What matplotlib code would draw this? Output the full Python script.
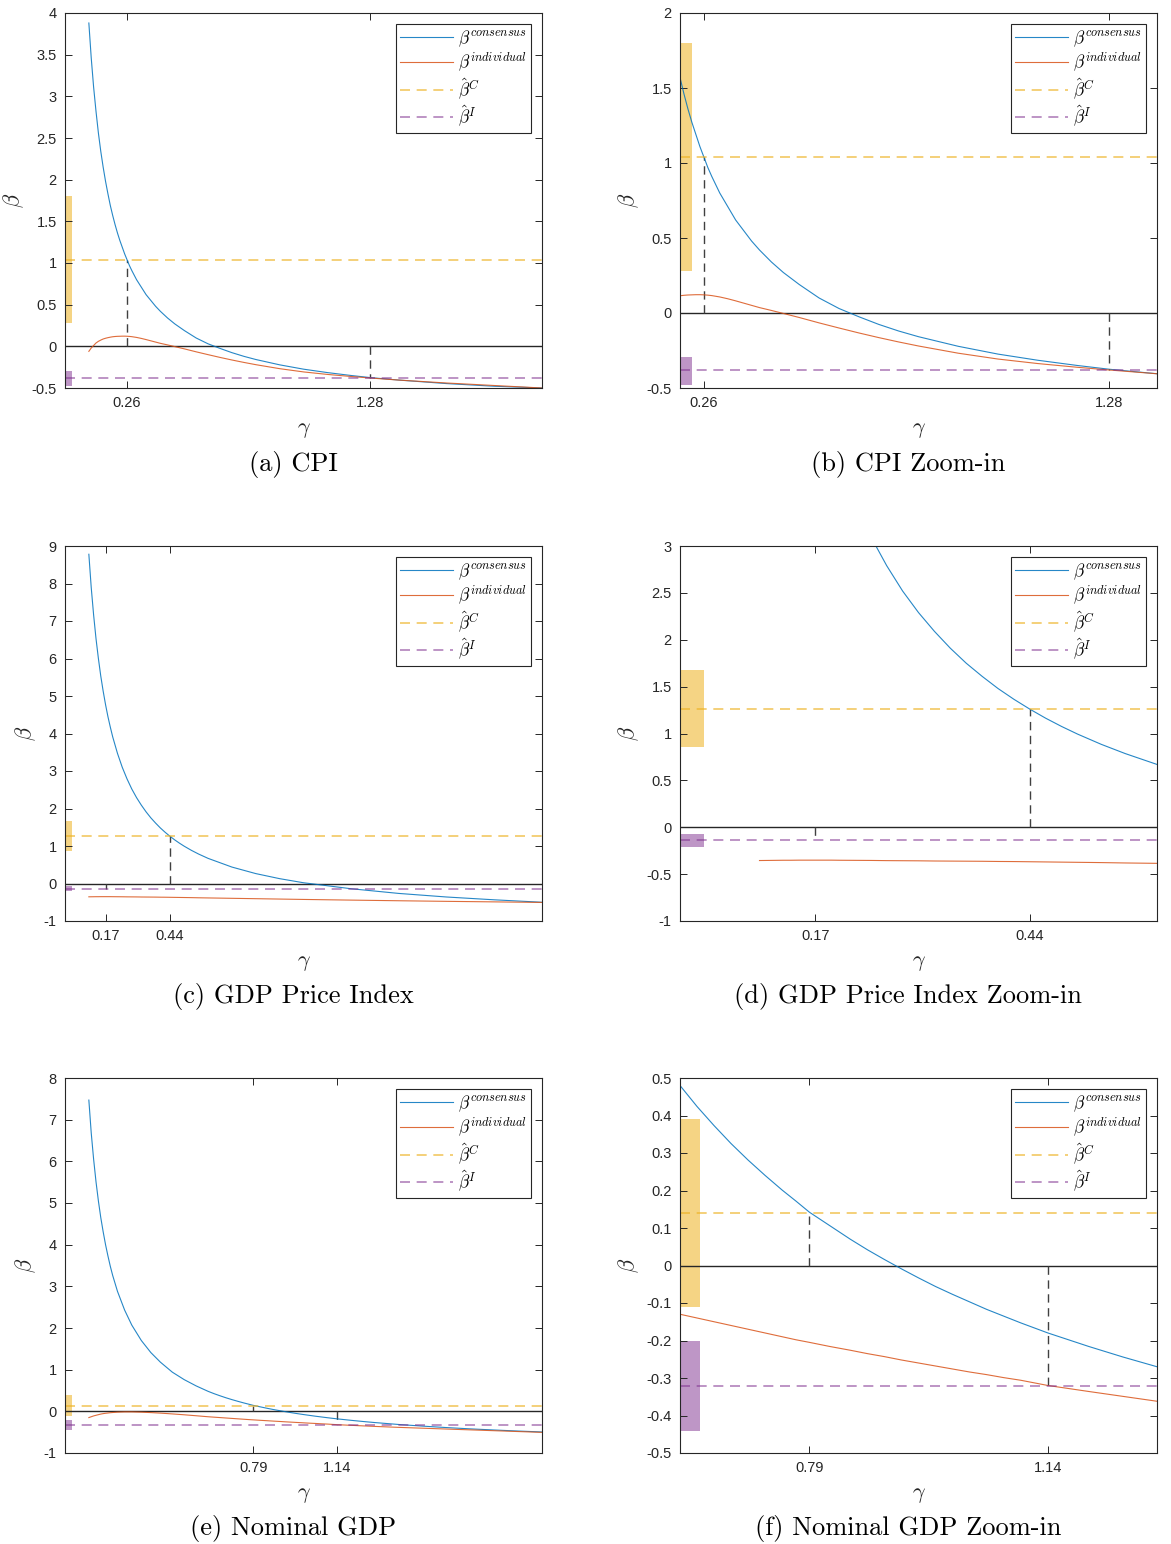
import matplotlib
matplotlib.use("Agg")
import matplotlib.pyplot as plt
from matplotlib.ticker import FixedLocator, MultipleLocator, FormatStrFormatter, FuncFormatter

plt.rcParams['mathtext.fontset'] = 'cm'
plt.rcParams['axes.unicode_minus'] = False
plt.rcParams['font.family'] = ['Liberation Sans', 'DejaVu Sans']

BLUE = '#0072BD'
ORANGE = '#D95319'
YELLOW = '#EDB120'
PURPLE = '#7E2F8E'
GREY = '#262626'

# ---- CPI ----
gamma_cpi = [0.10, 0.11, 0.12, 0.13, 0.14, 0.15, 0.16, 0.17, 0.18, 0.19,
             0.20, 0.21, 0.22, 0.23, 0.24, 0.25, 0.26, 0.27, 0.28, 0.30,
             0.32, 0.34, 0.36, 0.38, 0.40, 0.43, 0.46, 0.50, 0.55, 0.60,
             0.65, 0.70, 0.75, 0.80, 0.90, 1.00, 1.10, 1.20, 1.28, 1.40,
             1.60, 1.80, 2.00]
cons_cpi = [3.88, 3.46, 3.11, 2.82, 2.56, 2.34, 2.15, 1.98, 1.83, 1.69,
            1.57, 1.46, 1.36, 1.27, 1.19, 1.11, 1.04, 0.97, 0.91, 0.80,
            0.71, 0.62, 0.55, 0.48, 0.42, 0.34, 0.27, 0.19, 0.10, 0.03,
            -0.025, -0.076, -0.12, -0.158, -0.222, -0.274, -0.315, -0.35, -0.375, -0.405,
            -0.447, -0.479, -0.50]
indiv_cpi = [-0.06, -0.02, 0.01, 0.04, 0.06, 0.075, 0.088, 0.097, 0.104, 0.11,
             0.115, 0.118, 0.120, 0.121, 0.122, 0.122, 0.121, 0.119, 0.116, 0.107,
             0.095, 0.081, 0.066, 0.051, 0.036, 0.017, -0.003, -0.03, -0.066, -0.10,
             -0.133, -0.164, -0.193, -0.22, -0.268, -0.307, -0.337, -0.362, -0.38, -0.405,
             -0.44, -0.47, -0.50]
bhat_c_cpi, bhat_i_cpi = 1.04, -0.38
ci_c_cpi, ci_i_cpi = (0.28, 1.80), (-0.48, -0.29)
marks_cpi = (0.26, 1.28)

# ---- GDP price index ----
gamma_gdpp = [0.10, 0.11, 0.12, 0.13, 0.14, 0.15, 0.16, 0.17, 0.18, 0.19,
              0.20, 0.22, 0.24, 0.26, 0.28, 0.30, 0.32, 0.34, 0.36, 0.38,
              0.40, 0.42, 0.44, 0.46, 0.48, 0.50, 0.53, 0.56, 0.60, 0.70,
              0.80, 0.90, 1.00, 1.20, 1.40, 1.60, 1.80, 2.00]
cons_gdpp = [8.78, 7.89, 7.16, 6.53, 6.00, 5.53, 5.13, 4.77, 4.45, 4.17,
             3.91, 3.47, 3.10, 2.79, 2.52, 2.29, 2.09, 1.91, 1.75, 1.61,
             1.48, 1.365, 1.26, 1.163, 1.075, 0.994, 0.884, 0.786, 0.67, 0.438,
             0.264, 0.129, 0.02, -0.14, -0.265, -0.36, -0.435, -0.50]
indiv_gdpp = [-0.355, -0.354, -0.353, -0.352, -0.352, -0.351, -0.351, -0.351, -0.351, -0.351,
              -0.352, -0.353, -0.354, -0.356, -0.357, -0.358, -0.36, -0.361, -0.362, -0.363,
              -0.365, -0.366, -0.368, -0.37, -0.372, -0.374, -0.377, -0.381, -0.385, -0.395,
              -0.405, -0.415, -0.425, -0.443, -0.46, -0.476, -0.49, -0.505]
bhat_c_gdpp, bhat_i_gdpp = 1.26, -0.135
ci_c_gdpp, ci_i_gdpp = (0.86, 1.68), (-0.21, -0.07)
marks_gdpp = (0.44, 0.17)

# ---- Nominal GDP ----
gamma_ngdp = [0.10, 0.11, 0.12, 0.13, 0.14, 0.15, 0.16, 0.17, 0.18, 0.19,
              0.20, 0.22, 0.25, 0.28, 0.32, 0.36, 0.40, 0.45, 0.50, 0.55,
              0.600, 0.625, 0.650, 0.675, 0.700, 0.725, 0.750, 0.770, 0.790, 0.820,
              0.850, 0.875, 0.900, 0.925, 0.950, 0.975, 1.000, 1.025, 1.050, 1.075,
              1.100, 1.140, 1.170, 1.200, 1.250, 1.300,
              1.40, 1.50, 1.60, 1.70, 1.80, 1.90, 2.00]
cons_ngdp = [7.47, 6.68, 6.05, 5.51, 5.05, 4.65, 4.31, 4.00, 3.73, 3.48,
             3.26, 2.88, 2.43, 2.07, 1.70, 1.41, 1.18, 0.94, 0.76, 0.61,
             0.480, 0.424, 0.373, 0.325, 0.281, 0.240, 0.201, 0.172, 0.142, 0.106,
             0.070, 0.042, 0.016, -0.009, -0.033, -0.056, -0.077, -0.097, -0.117, -0.135,
             -0.153, -0.180, -0.198, -0.216, -0.244, -0.270,
             -0.316, -0.355, -0.39, -0.421, -0.448, -0.473, -0.495]
indiv_ngdp = [-0.15, -0.13, -0.11, -0.095, -0.08, -0.066, -0.055, -0.047, -0.04, -0.033,
              -0.028, -0.02, -0.014, -0.014, -0.02, -0.03, -0.043, -0.062, -0.083, -0.106,
              -0.130, -0.140, -0.150, -0.160, -0.170, -0.180, -0.190, -0.198, -0.205, -0.216,
              -0.226, -0.235, -0.243, -0.252, -0.260, -0.268, -0.276, -0.284, -0.291, -0.299,
              -0.306, -0.320, -0.328, -0.336, -0.349, -0.362,
              -0.385, -0.405, -0.425, -0.445, -0.465, -0.485, -0.505]
bhat_c_ngdp, bhat_i_ngdp = 0.14, -0.32
ci_c_ngdp, ci_i_ngdp = (-0.11, 0.39), (-0.44, -0.20)
marks_ngdp = (0.79, 1.14)

W, H = 1171, 1544
fig = plt.figure(figsize=(W / 100, H / 100), dpi=100)


def tick_fmt(v, pos):
    return '%g' % (round(v, 8) + 0.0)


def draw_panel(left, top, gamma, cons, indiv, bc, bi, ci_c, ci_i, marks,
               xlim, ylim, ystep, caption):
    ax = fig.add_axes([left / W, (H - top - 375) / H, 477 / W, 375 / H])
    x0, x1 = xlim
    band = 0.03
    ax.fill_betweenx(ci_c, x0, x0 + band, color=YELLOW, alpha=0.55, lw=0)
    ax.fill_betweenx(ci_i, x0, x0 + band, color=PURPLE, alpha=0.5, lw=0)
    ax.axhline(0, color=GREY, lw=1.0, zorder=1)
    ax.plot([marks[0], marks[0]], [0, bc], color='#404040', lw=1.0, dashes=(6, 4))
    ax.plot([marks[1], marks[1]], [0, bi], color='#404040', lw=1.0, dashes=(6, 4))
    ax.plot(gamma, cons, color=BLUE, lw=0.8, alpha=0.85, label=r'$\beta^{consensus}$')
    ax.plot(gamma, indiv, color=ORANGE, lw=0.8, alpha=0.85, label=r'$\beta^{individual}$')
    ax.plot([x0, x1], [bc, bc], color=YELLOW, alpha=0.7, lw=1.2, dashes=(6, 4),
            label=r'$\hat{\beta}^{C}$')
    ax.plot([x0, x1], [bi, bi], color=PURPLE, alpha=0.6, lw=1.2, dashes=(6, 4),
            label=r'$\hat{\beta}^{I}$')
    ax.set_xlim(xlim)
    ax.set_ylim(ylim)
    ax.xaxis.set_major_locator(FixedLocator(sorted(marks)))
    ax.xaxis.set_major_formatter(FormatStrFormatter('%.2f'))
    ax.yaxis.set_major_locator(MultipleLocator(ystep))
    ax.yaxis.set_major_formatter(FuncFormatter(tick_fmt))
    ax.tick_params(direction='in', top=True, right=True, length=5, width=0.7,
                   colors=GREY, labelsize=10.5, pad=6)
    for s in ax.spines.values():
        s.set_color(GREY)
        s.set_linewidth(0.8)
    ax.set_xlabel(r'$\gamma$', fontsize=16, color=GREY, labelpad=6)
    ax.set_ylabel(r'$\beta$', fontsize=16, color=GREY, labelpad=4)
    leg = ax.legend(loc='upper right', bbox_to_anchor=(0.977, 0.971), fontsize=12.5,
                    handlelength=3.0, handletextpad=0.3, labelspacing=0.12,
                    borderpad=0.25, fancybox=False, framealpha=1, borderaxespad=0)
    leg.get_frame().set_edgecolor(GREY)
    leg.get_frame().set_linewidth(0.8)
    fig.text((left + 228) / W, 1 - (top + 451) / H, caption, ha='center', va='center',
             fontfamily='cmr10', fontsize=19)
    return ax


draw_panel(65, 13, gamma_cpi, cons_cpi, indiv_cpi, bhat_c_cpi, bhat_i_cpi,
           ci_c_cpi, ci_i_cpi, marks_cpi, (0, 2), (-0.5, 4), 0.5, '(a) CPI')
draw_panel(680, 13, gamma_cpi, cons_cpi, indiv_cpi, bhat_c_cpi, bhat_i_cpi,
           ci_c_cpi, ci_i_cpi, marks_cpi, (0.2, 1.4), (-0.5, 2), 0.5, '(b) CPI Zoom-in')
draw_panel(65, 546, gamma_gdpp, cons_gdpp, indiv_gdpp, bhat_c_gdpp, bhat_i_gdpp,
           ci_c_gdpp, ci_i_gdpp, marks_gdpp, (0, 2), (-1, 9), 1, '(c) GDP Price Index')
draw_panel(680, 546, gamma_gdpp, cons_gdpp, indiv_gdpp, bhat_c_gdpp, bhat_i_gdpp,
           ci_c_gdpp, ci_i_gdpp, marks_gdpp, (0, 0.6), (-1, 3), 0.5,
           '(d) GDP Price Index Zoom-in')
draw_panel(65, 1078, gamma_ngdp, cons_ngdp, indiv_ngdp, bhat_c_ngdp, bhat_i_ngdp,
           ci_c_ngdp, ci_i_ngdp, marks_ngdp, (0, 2), (-1, 8), 1, '(e) Nominal GDP')
draw_panel(680, 1078, gamma_ngdp, cons_ngdp, indiv_ngdp, bhat_c_ngdp, bhat_i_ngdp,
           ci_c_ngdp, ci_i_ngdp, marks_ngdp, (0.6, 1.3), (-0.5, 0.5), 0.1,
           '(f) Nominal GDP Zoom-in')

fig.savefig('out.png', dpi=100)
